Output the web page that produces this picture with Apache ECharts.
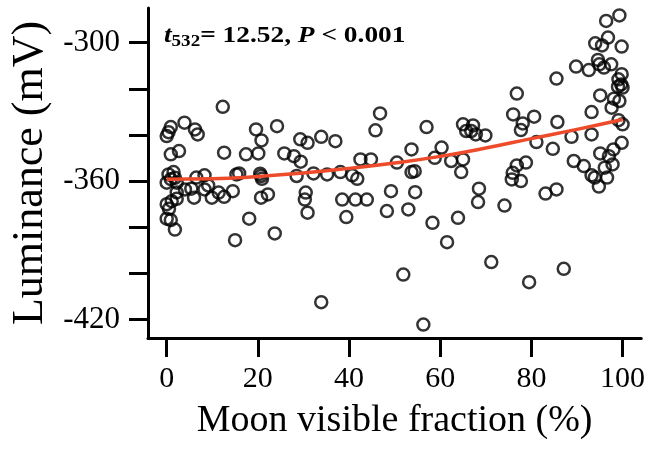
<!DOCTYPE html>
<html>
<head>
<meta charset="utf-8">
<script src="https://cdn.jsdelivr.net/npm/echarts@6/dist/echarts.min.js"></script>
<style>
    html, body { margin: 0; padding: 0; background: #fff; }
    #main { width: 648px; height: 450px; }
</style>
</head>
<body>
<div id="main"></div>
<script>
// moon visible fraction (%) of each sample
var moonFrac = [
    12.3, 0.9, 0.4, 0, 3.9, 6.2, 6.8, 0.9, 2.7, 12.6,
    19.6, 20.8, 20.1, 17.4, 24.2, 25.8, 27.9, 29.3, 29.4, 30.9,
    0.4, 1.5, 0.9, 0, 1.8, 2.2, 4, 5.4, 6, 6.5,
    8.3, 9.1, 2.2, 0.5, 0, 0.9, 1.8, 9.9, 11.4, 12.6,
    14.5, 15.3, 15.9, 15, 18.1, 20.7, 20.5, 20.9, 20.7, 22.2,
    23.7, 28.5, 30.5, 30.3, 30.9, 46.8, 45.8, 57, 65, 65.7,
    33.9, 37, 42.5, 44.8, 50.5, 53.7, 60.3, 58.8, 62.4, 65,
    32.2, 35.2, 38.1, 40.7, 41.8, 53.7, 54.4, 64.6, 38.5, 41.4,
    43.9, 39.4, 49.2, 54.5, 48.3, 53, 58.3, 63.9, 61.5, 51.9,
    33.9, 56.3, 2.2, 8.3, 1.1, 0,
    99.3, 96.4, 96.8, 94, 95.5, 99.8, 94.6, 94.9, 95.9, 97.5,
    92.6, 89.8, 85.5, 99.8, 99.1, 99.7, 100, 99, 76.8, 95.1,
    98.1, 99.3, 97.6, 93.2, 76, 80.6, 78.1, 77.7, 85.7, 99.1,
    100, 67.2, 66.8, 67.8, 69.9, 81.1, 88.8, 93.2, 99.8, 84.7,
    95.1, 97, 98, 97.8, 89.3, 91.5, 78.8, 76.8, 96.1, 93.2,
    93.9, 96.6, 94.8, 75.9, 75.7, 77.7, 68.5, 68.3, 74.1, 83.1,
    85.5, 71.2, 79.5, 87.1
];
// luminance (mV), same order
var lum = [
    -327.8, -336.6, -338.8, -340.5, -334.7, -337.6, -339.8, -348.4, -347, -347.7,
    -337.6, -342.4, -348, -348.4, -336.2, -348, -349.2, -341.9, -351.6, -343.4,
    -357.1, -356.1, -359.2, -360.7, -358.6, -360.7, -363.6, -363.3, -367.2, -358.5,
    -357.5, -361.9, -367.7, -372, -376.3, -376.9, -381, -367.2, -365, -366.8,
    -364.4, -357.1, -356.7, -385.6, -376.3, -357.8, -356.8, -359, -367.2, -365.8,
    -382.7, -357.8, -365, -368, -373.7, -330.7, -338, -336.6, -335.4, -338.3,
    -340.8, -342.7, -350.6, -350.6, -352, -346.3, -345.5, -349.9, -351.3, -350.6,
    -356.7, -357.1, -356.1, -357.5, -359, -356.1, -355.7, -356.1, -368, -368,
    -368, -375.6, -364.4, -364.8, -373, -372.3, -378.1, -375.9, -386.5, -400.5,
    -412.5, -422.2, -364.9, -363.6, -368.7, -370,
    -288.2, -290.6, -297.8, -300.3, -301.2, -301.7, -307.5, -309.4, -310.8, -309.4,
    -311.9, -310.4, -315.6, -313.7, -315.9, -318.1, -319.5, -319.1, -322.1, -322.9,
    -324.3, -325.3, -328.2, -330.1, -331.1, -332.1, -335, -337.9, -334.4, -333.6,
    -335.4, -335.9, -338.3, -339.8, -340.2, -343.1, -340.8, -339.8, -343.4, -346,
    -348, -349.2, -346.3, -352.8, -351.3, -353.5, -352, -353.2, -354.2, -357.5,
    -358.5, -358.5, -362.4, -356.4, -359.3, -360, -363.3, -369.1, -370.6, -365.4,
    -363.6, -395.1, -403.8, -398
];

// fitted curve
var fitX = [0, 10, 20, 30, 40, 50, 60, 70, 80, 90, 100];
var fitY = [-359.2, -359, -358, -356.5, -354.5, -352.2, -349.3, -345.7, -341.6, -337.6, -333.3];

var xTicks = [0, 20, 40, 60, 80, 100];
var yTicks = [-420, -400, -380, -360, -340, -320, -300];
var yLabels = [-420, -360, -300];

var pts = [];
for (var i = 0; i < moonFrac.length; i++) {
    pts.push([moonFrac[i], lum[i]]);
}
var fit = [];
for (var j = 0; j < fitX.length; j++) {
    fit.push([fitX[j], fitY[j]]);
}

var serif = 'Liberation Serif';
var axisLine = { show: true, onZero: false, lineStyle: { color: '#000', width: 3 } };

var myChart = echarts.init(document.getElementById('main'));
var option = {
    animation: false,
    grid: { left: 146, right: 5, top: 8, bottom: 112, containLabel: false },
    xAxis: {
        type: 'value',
        min: -4.1,
        max: 104.1,
        name: 'Moon visible fraction (%)',
        nameLocation: 'middle',
        nameGap: 64,
        nameTextStyle: { fontFamily: serif, fontSize: 38, color: '#000' },
        axisLine: axisLine,
        axisTick: { show: true, length: 19, lineStyle: { color: '#000', width: 3 }, customValues: xTicks },
        axisLabel: { fontFamily: serif, fontSize: 30, color: '#000', margin: 26, customValues: xTicks },
        splitLine: { show: false }
    },
    yAxis: {
        type: 'value',
        min: -428,
        max: -285,
        name: 'Luminance (mV)',
        nameLocation: 'middle',
        nameGap: 96,
        nameTextStyle: { fontFamily: serif, fontSize: 44, color: '#000' },
        axisLine: axisLine,
        axisTick: { show: true, length: 19, lineStyle: { color: '#000', width: 3 }, customValues: yTicks },
        axisLabel: { fontFamily: serif, fontSize: 31, color: '#000', margin: 28, customValues: yLabels },
        splitLine: { show: false }
    },
    graphic: [{
        type: 'text',
        x: 164,
        y: 22,
        scaleX: 1.19,
        style: {
            x: 0,
            y: 0,
            text: '{it|t}{sub|532}{b|= 12.52, }{it|P}{b| < 0.001}',
            rich: {
                it: { fontFamily: serif, fontSize: 23, fontWeight: 'bold', fontStyle: 'italic', fill: '#000' },
                sub: { fontFamily: serif, fontSize: 16, fontWeight: 'bold', fill: '#000', padding: [12, 0, 0, 0] },
                b: { fontFamily: serif, fontSize: 23, fontWeight: 'bold', fill: '#000' }
            }
        }
    }],
    series: [
        {
            type: 'scatter',
            data: pts,
            symbol: 'circle',
            symbolSize: 12,
            itemStyle: { color: 'rgba(0,0,0,0)', borderColor: '#000', borderWidth: 2.5 }
        },
        {
            type: 'line',
            data: fit,
            smooth: true,
            symbol: 'none',
            lineStyle: { color: '#EE4B2B', width: 3.5 },
            z: 3
        }
    ]
};
myChart.setOption(option);
</script>
</body>
</html>
